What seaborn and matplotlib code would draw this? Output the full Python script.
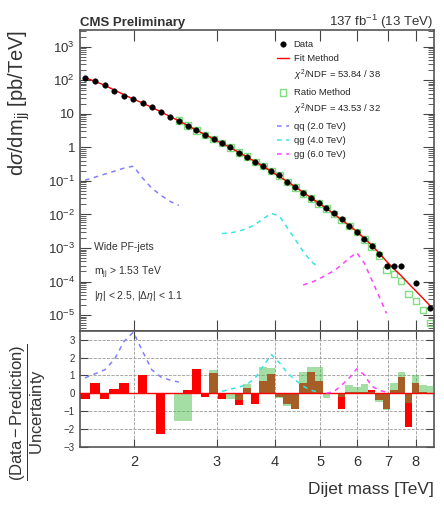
import numpy as np
import pandas as pd
import matplotlib
matplotlib.use('Agg')
import matplotlib.pyplot as plt
import seaborn as sns
from matplotlib.ticker import FixedLocator, NullFormatter, FixedFormatter, LogLocator

# ----- Dados -----
# bordas dos bins de massa dijet (TeV)
edges = [1.530, 1.607, 1.687, 1.770, 1.856, 1.945, 2.037, 2.132, 2.231, 2.332,
         2.438, 2.546, 2.659, 2.775, 2.895, 3.019, 3.147, 3.279, 3.416, 3.558,
         3.704, 3.854, 4.010, 4.171, 4.337, 4.509, 4.686, 4.869, 5.058, 5.253,
         5.455, 5.663, 5.877, 6.099, 6.328, 6.564, 6.808, 7.060, 7.320, 7.589,
         7.866, 8.152, 8.447, 8.752]

nan = np.nan
# log10 de dsigma/dmjj [pb/TeV]
data_log = [2.08, 1.98, 1.86, 1.68, 1.54, 1.44, 1.33, 1.21, 1.06, 0.91,
            0.79, 0.64, 0.51, 0.37, 0.25, 0.13, 0.00, -0.16, -0.28, -0.44,
            -0.56, -0.71, -0.83, -1.04, -1.19, -1.37, -1.52, -1.67, -1.82, -1.97,
            -2.15, -2.33, -2.51, -2.72, -2.93, -3.17, -3.53, -3.53, -3.53, nan,
            -4.04, nan, -4.78]
fit_log = [2.08, 1.97, 1.85, 1.71, 1.57, 1.44, 1.32, 1.19, 1.06, 0.92,
           0.79, 0.65, 0.51, 0.38, 0.25, 0.12, -0.01, -0.15, -0.29, -0.43,
           -0.57, -0.72, -0.87, -1.02, -1.18, -1.34, -1.50, -1.66, -1.82, -1.99,
           -2.16, -2.33, -2.51, -2.71, -2.92, -3.15, -3.40, -3.62, -3.83, -4.06,
           -4.28, -4.50, -4.73]
ratio_log = [nan, nan, nan, nan, nan, nan, nan, nan, nan, nan,
             0.80, 0.65, 0.51, 0.37, 0.25, 0.13, 0.00, -0.16, -0.28, -0.44,
             -0.56, -0.71, -0.84, -1.04, -1.19, -1.37, -1.52, -1.67, -1.82, -1.98,
             -2.16, -2.34, -2.53, -2.74, -2.96, -3.22, -3.65, -3.77, -3.98, -4.37,
             -4.58, -4.85, -5.23]
qq_log = [-0.98, -0.89, -0.80, -0.71, -0.62, -0.56, -0.92, -1.22, -1.43, -1.61,
          -1.73] + [nan] * 32
qg_log = [nan] * 15 + [-2.57, -2.55, -2.50, -2.42, -2.30, -2.12, -1.97, -2.05, -2.40,
                       -2.75, -3.10, -3.40, -3.58] + [nan] * 15
gg_log = [nan] * 25 + [-4.10, -4.03, -3.93, -3.80, -3.68, -3.50, -3.30, -3.14, -3.45,
                       -3.95, -4.45, -4.95] + [nan] * 6

# (Data - Prediction) / Uncertainty
pull_fit = [-0.34, 0.57, -0.34, 0.23, 0.57, -0.05, 1.03, 0.02, -2.29, 0.0,
            0.0, 0.2, 1.37, -0.2, 1.15, -0.34, 0.0, -0.63, 0.3, -0.57,
            0.7, 1.1, -0.2, -0.6, -0.9, 0.6, 1.2, 0.7, 0.0, 0.0,
            -0.9, 0.1, 0.05, 0.1, 0.2, -0.4, -0.9, 0.2, 0.9, -1.9,
            0.55, 0.05, 0.0]
pull_ratio = [nan] * 10 + [-1.55, -1.55, 0.0, 0.0, 1.3, 0.0, -0.3, -0.35, 0.5, 0.0,
                           1.5, 1.4, -0.25, -0.7, -0.9, 1.2, 1.5, 1.45, -0.25, 0.0,
                           -0.2, 0.45, 0.35, 0.5, 0.05, -0.5, -0.95, 0.6, 1.2, -0.55,
                           1.0, 0.45, 0.4]
qq_pull = [0.86, 1.09, 1.31, 1.89, 2.9, 3.43, 2.34, 1.31, 0.91, 0.74, 0.63] + [nan] * 32
qg_pull = [nan] * 15 + [0.11, 0.23, 0.34, 0.51, 0.86, 1.54, 2.17, 1.71, 1.14, 0.74,
                        0.4, 0.17, 0.06] + [nan] * 15
gg_pull = [nan] * 28 + [0.0, 0.1, 0.46, 0.86, 1.37, 1.03, 0.4, 0.17, 0.06] + [nan] * 6

# ----- Tabela -----
e = np.array(edges)
df = pd.DataFrame({
    'mjj': (e[:-1] + e[1:]) / 2,
    'left': e[:-1],
    'width': np.diff(e),
    'data': 10 ** np.array(data_log),
    'fit': 10 ** np.array(fit_log),
    'ratio': 10 ** np.array(ratio_log),
    'qq': 10 ** np.array(qq_log),
    'qg': 10 ** np.array(qg_log),
    'gg': 10 ** np.array(gg_log),
    'pull_fit': pull_fit,
    'pull_ratio': pull_ratio,
    'qq_pull': qq_pull,
    'qg_pull': qg_pull,
    'gg_pull': gg_pull,
})

sns.set_style('ticks')
plt.rcParams['font.family'] = ['Liberation Sans', 'DejaVu Sans']
plt.rcParams['mathtext.fontset'] = 'custom'
plt.rcParams['mathtext.rm'] = 'Liberation Sans'
plt.rcParams['mathtext.it'] = 'Liberation Sans:italic'

fig = plt.figure(figsize=(4.44, 5.05), dpi=100)
ax = fig.add_axes([0.180, 0.345, 0.797, 0.596])
ax2 = fig.add_axes([0.180, 0.115, 0.797, 0.230], sharex=ax)

sig_style = dict(linestyle=(0, (3, 3)), linewidth=1.1)

# ----- painel de cima -----
sns.lineplot(data=df, x='mjj', y='qq', ax=ax, color='#8080ff', label='qq (2.0 TeV)', **sig_style)
sns.lineplot(data=df, x='mjj', y='qg', ax=ax, color='#33e6e6', label='qg (4.0 TeV)', **sig_style)
sns.lineplot(data=df, x='mjj', y='gg', ax=ax, color='#ff40ff', label='gg (6.0 TeV)', **sig_style)
sns.lineplot(data=df, x='mjj', y='fit', ax=ax, color='red', linewidth=1.0, label='Fit Method')
sns.scatterplot(data=df, x='mjj', y='ratio', ax=ax, marker='s', s=22, facecolor='none',
                edgecolor='#80dd80', linewidth=1.0, label='Ratio Method')
sns.scatterplot(data=df, x='mjj', y='data', ax=ax, marker='o', s=16, color='black',
                edgecolor='black', label='Data', zorder=5)

ax.set_xscale('log')
ax.set_yscale('log')
ax.set_xlim(1.53, 8.752)
ax.set_ylim(3.4e-6, 3.2e3)

yt = [1e-5, 1e-4, 1e-3, 1e-2, 1e-1, 1, 10, 1e2, 1e3]
ytl = ['$10^{-5}$', '$10^{-4}$', '$10^{-3}$', '$10^{-2}$', '$10^{-1}$', '1', '10', '$10^{2}$', '$10^{3}$']
ax.yaxis.set_major_locator(FixedLocator(yt))
ax.yaxis.set_major_formatter(FixedFormatter(ytl))
ax.yaxis.set_minor_locator(LogLocator(base=10, subs=np.arange(2, 10), numticks=20))
ax.yaxis.set_minor_formatter(NullFormatter())
ax.tick_params(axis='y', labelsize=9.5)
ax.tick_params(which='both', direction='in', top=True, right=True, colors='#444444',
               labelcolor='#333333')
ax.tick_params(which='major', length=8)
ax.tick_params(which='minor', length=4)
ax.tick_params(axis='x', labelbottom=False)
ax.set_xlabel('')
ax.set_ylabel(r'd$\sigma$/dm$_{\rm jj}$ [pb/TeV]', fontsize=14.5, loc='top', color='#333333')
ax.yaxis.set_label_coords(-0.135, 1.0)

h, l = ax.get_legend_handles_labels()
hd = dict(zip(l, h))
blank = plt.Line2D([], [], linestyle='none', marker=None)
handles = [hd['Data'], hd['Fit Method'], blank, hd['Ratio Method'], blank,
           hd['qq (2.0 TeV)'], hd['qg (4.0 TeV)'], hd['gg (6.0 TeV)']]
labels = ['Data', 'Fit Method', r'$\chi^2$/NDF = 53.84 / 38', 'Ratio Method',
          r'$\chi^2$/NDF = 43.53 / 32', 'qq (2.0 TeV)', 'qg (4.0 TeV)', 'gg (6.0 TeV)']
ax.legend(handles, labels, loc='upper left', bbox_to_anchor=(0.54, 0.985), frameon=False,
          fontsize=6.8, handlelength=1.3, handletextpad=0.5, labelspacing=0.52,
          borderaxespad=0.2)

ax.text(0.04, 0.27, 'Wide PF-jets', transform=ax.transAxes, fontsize=7.5, color='#333333')
ax.text(0.04, 0.185, r'm$_{\rm jj}$ > 1.53 TeV', transform=ax.transAxes, fontsize=7.5, color='#333333')
ax.text(0.04, 0.105, r'|$\eta$| < 2.5, |$\Delta\eta$| < 1.1', transform=ax.transAxes,
        fontsize=7.5, color='#333333')
ax.text(0.0, 1.012, 'CMS Preliminary', transform=ax.transAxes, fontsize=9.5,
        fontweight='bold', color='#333333')
ax.text(1.0, 1.012, r'137 fb$^{-1}$ (13 TeV)', transform=ax.transAxes, fontsize=9.5,
        ha='right', color='#333333')

# ----- painel de baixo -----
ax2.bar(df['left'], df['pull_fit'], width=df['width'], align='edge', color='red',
        edgecolor='none', zorder=2)
ax2.bar(df['left'], df['pull_ratio'], width=df['width'], align='edge', color='#4cbf4c',
        alpha=0.5, edgecolor='none', zorder=3)
ax2.axhline(0, color='red', linewidth=1.0, zorder=4)
sns.lineplot(data=df, x='mjj', y='qq_pull', ax=ax2, color='#8080ff', legend=False, zorder=5, **sig_style)
sns.lineplot(data=df, x='mjj', y='qg_pull', ax=ax2, color='#33e6e6', legend=False, zorder=5, **sig_style)
sns.lineplot(data=df, x='mjj', y='gg_pull', ax=ax2, color='#ff40ff', legend=False, zorder=5, **sig_style)

ax2.set_ylim(-3.0, 3.5)
ax2.set_yticks([-3, -2, -1, 0, 1, 2, 3])
ax2.tick_params(axis='y', labelsize=7)
ax2.set_xticks([2, 3, 4, 5, 6, 7, 8])
ax2.set_xticklabels(['2', '3', '4', '5', '6', '7', '8'])
ax2.xaxis.set_minor_formatter(NullFormatter())
ax2.tick_params(axis='x', labelsize=10.5, pad=6)
ax2.tick_params(which='both', direction='in', top=True, right=True, colors='#444444',
                labelcolor='#333333')
ax2.tick_params(which='major', length=6)
ax2.tick_params(which='minor', length=3)
ax2.grid(True, which='major', linestyle='--', color='#999999', linewidth=0.6, zorder=0)
ax2.set_axisbelow(True)
ax2.set_xlabel('Dijet mass [TeV]', fontsize=12.5, loc='right', color='#333333', labelpad=9)
ax2.set_ylabel(r'$\dfrac{\mathrm{(Data-Prediction)}}{\mathrm{Uncertainty}}$', fontsize=12,
               color='#333333')
ax2.yaxis.set_label_coords(-0.09, 0.3)

for a in (ax, ax2):
    for s in a.spines.values():
        s.set_color('#555555')
        s.set_linewidth(1.2)

plt.savefig('out.png', dpi=100)
